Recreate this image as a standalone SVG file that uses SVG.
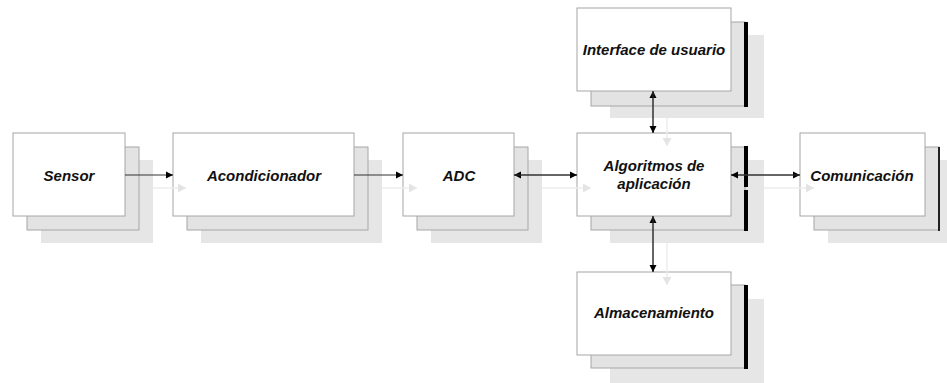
<svg xmlns="http://www.w3.org/2000/svg" width="947" height="383" viewBox="0 0 947 383">
<style>
.l3{fill:#e6e6e6;stroke:none}
.l2{fill:#e3e3e3;stroke:#a6a6a6;stroke-width:1}
.f{fill:#ffffff;stroke:#a6a6a6;stroke-width:1}
.t{font-family:"Liberation Sans",Arial,sans-serif;font-weight:bold;font-style:italic;font-size:15px;fill:#111;text-anchor:middle}
.bar{fill:#000}
.c{stroke:#333;stroke-width:1;fill:none}
.g{stroke:#ececec;stroke-width:1.5;fill:none}
</style>
<defs>
<marker id="a" markerWidth="8" markerHeight="8" refX="7" refY="4" orient="auto" markerUnits="userSpaceOnUse">
<path d="M0,0.5 L7,4 L0,7.5 Z" fill="#000"/>
</marker>
<marker id="ag" markerWidth="10" markerHeight="10" refX="8" refY="5" orient="auto" markerUnits="userSpaceOnUse">
<path d="M0,0.5 L8,5 L0,9.5 Z" fill="#e4e4e4"/>
</marker>
</defs>
<rect width="947" height="383" fill="#fff"/>
<g id="sensor">
<rect class="l3" x="41" y="160" width="112" height="83"/>
<rect class="l2" x="27" y="147" width="112" height="83"/>
<rect class="f" x="13" y="133" width="112" height="83"/>
<text class="t" x="69" y="181">Sensor</text>
</g>
<g id="acondicionador">
<rect class="l3" x="201" y="160" width="181" height="83"/>
<rect class="l2" x="187" y="147" width="181" height="83"/>
<rect class="f" x="173" y="133" width="181" height="83"/>
<text class="t" x="264" y="181">Acondicionador</text>
</g>
<g id="adc">
<rect class="l3" x="431" y="160" width="111" height="83"/>
<rect class="l2" x="417" y="147" width="111" height="83"/>
<rect class="f" x="403" y="133" width="111" height="83"/>
<text class="t" x="459" y="181">ADC</text>
</g>
<g id="interface">
<rect class="l3" x="610" y="35" width="154" height="83"/>
<rect class="l2" x="591" y="22" width="154" height="84"/>
<rect class="bar" x="744" y="22" width="4" height="85"/>
<rect class="f" x="577" y="8" width="154" height="83"/>
<text class="t" x="654" y="55">Interface de usuario</text>
</g>
<g id="algoritmos">
<rect class="l3" x="610" y="160" width="154" height="83"/>
<rect class="l2" x="591" y="147" width="154" height="83"/>
<rect class="bar" x="744" y="146" width="4" height="41"/>
<rect class="bar" x="744" y="190" width="4" height="41"/>
<rect class="f" x="577" y="133" width="154" height="83"/>
<text class="t" x="654" y="171">Algoritmos de</text>
<text class="t" x="654" y="189">aplicación</text>
</g>
<g id="almacenamiento">
<rect class="l3" x="610" y="299" width="154" height="84"/>
<rect class="l2" x="591" y="285" width="154" height="83"/>
<rect class="bar" x="744" y="285" width="4" height="84"/>
<rect class="f" x="577" y="272" width="154" height="83"/>
<text class="t" x="654" y="318">Almacenamiento</text>
</g>
<g id="comunicacion">
<rect class="l3" x="828" y="160" width="119" height="83"/>
<rect class="l2" x="814" y="147" width="125" height="83"/>
<rect x="938" y="147" width="2" height="84" fill="#222"/>
<rect class="f" x="800" y="133" width="125" height="83"/>
<text class="t" x="862" y="181">Comunicación</text>
</g>
<g id="connectors">
<path class="g" d="M153,188 H186" marker-end="url(#ag)"/>
<path class="g" d="M382,188 H417" marker-end="url(#ag)"/>
<path class="g" d="M542,188 H591" marker-end="url(#ag)"/>
<path class="g" d="M764,188 H814" marker-end="url(#ag)"/>
<path class="g" d="M667,118 V146" marker-end="url(#ag)"/>
<path class="g" d="M667,243 V285" marker-end="url(#ag)"/>
<path class="c" d="M125,175 H173" marker-end="url(#a)"/>
<path class="c" d="M354,175 H403" marker-end="url(#a)"/>
<path class="c" d="M577,175 H514" marker-end="url(#a)"/>
<path class="c" d="M514,175 H577" marker-end="url(#a)"/>
<path class="c" d="M731,175 H800" marker-end="url(#a)"/>
<path class="c" d="M800,175 H731" marker-end="url(#a)"/>
<path class="c" d="M653,133 V91" marker-end="url(#a)"/>
<path class="c" d="M653,91 V133" marker-end="url(#a)"/>
<path class="c" d="M653,272 V216" marker-end="url(#a)"/>
<path class="c" d="M653,216 V272" marker-end="url(#a)"/>
</g>
</svg>
